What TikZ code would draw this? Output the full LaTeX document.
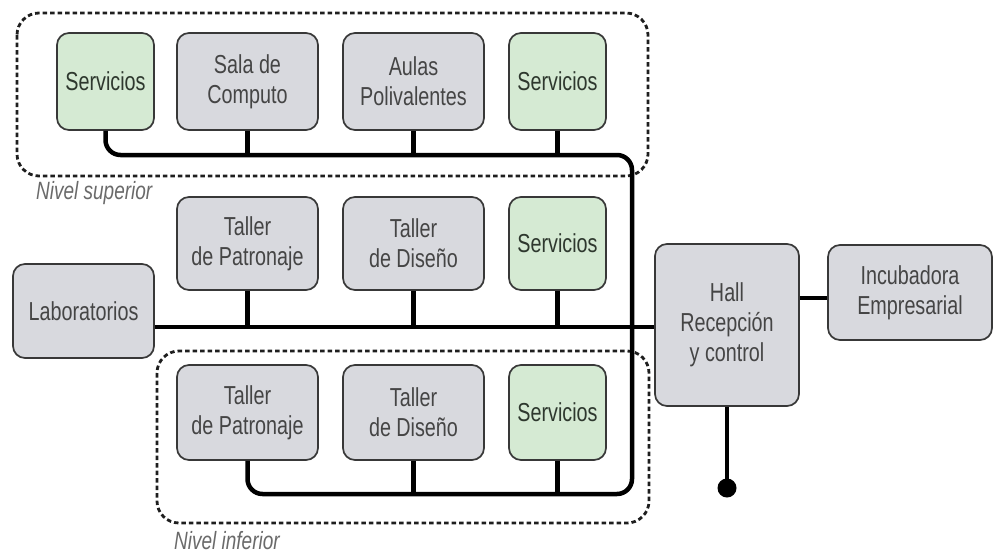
\documentclass[tikz,border=0pt]{standalone}
\usepackage{fontspec}
\setmainfont{Liberation Sans}[FakeStretch=0.76]
\definecolor{boxgray}{HTML}{D8D9DE}
\definecolor{boxgreen}{HTML}{D5EAD3}
\definecolor{bordc}{HTML}{383838}
\definecolor{txtc}{HTML}{454545}
\definecolor{txtg}{HTML}{2E382E}
\definecolor{dashc}{HTML}{1E1E1E}
\definecolor{lvlc}{HTML}{6A6A6A}
\begin{document}
\begin{tikzpicture}[x=1pt,y=-1pt,
  box/.style={draw=bordc, line width=1.7pt, rounded corners=12pt, fill=boxgray, text=txtc,
    align=center, font=\fontsize{26}{30}\selectfont, inner sep=0pt},
  gbox/.style={box, fill=boxgreen, text=txtg},
  wide/.style={minimum width=141pt},
  narrow/.style={minimum width=97pt},
  bus/.style={line width=4.5pt, rounded corners=15pt},
  group/.style={draw=dashc, line width=2.8pt, dash pattern=on 4.5pt off 3pt, rounded corners=22pt},
  lvl/.style={font=\fontsize{25}{30}\selectfont\itshape, text=lvlc, anchor=west, inner sep=0pt}]
\useasboundingbox (0,0) rectangle (1000,554);

% groups
\draw[group] (17,13) rectangle (648,176);
\draw[group] (157,351) rectangle (649,523);
\node[lvl] (nsup) at (36,193) {Nivel superior};
\node[lvl] (ninf) at (174,541) {Nivel inferior};

% top row
\node[gbox, narrow, minimum height=97pt] (s1) at (105.5,81.5) {Servicios};
\node[box, wide, minimum height=97pt] (sc) at (247.5,81.5) {Sala de\\Computo};
\node[box, wide, minimum height=97pt] (ap) at (413.5,81.5) {Aulas\\Polivalentes};
\node[gbox, narrow, minimum height=97pt] (s2) at (557.5,81.5) {Servicios};

% middle row
\node[box, wide, minimum height=93pt] (tp1) at (247.5,243.5) {Taller\\de Patronaje};
\node[box, wide, minimum height=93pt] (td1) at (413.5,243.5) {Taller\\de Diseño};
\node[gbox, narrow, minimum height=93pt] (s3) at (557.5,243.5) {Servicios};
\node[box, minimum width=141pt, minimum height=94pt] (lab) at (83.5,311) {Laboratorios};

% lower row
\node[box, wide, minimum height=95pt] (tp2) at (247.5,412.5) {Taller\\de Patronaje};
\node[box, wide, minimum height=95pt] (td2) at (413.5,412.5) {Taller\\de Diseño};
\node[gbox, narrow, minimum height=95pt] (s4) at (557.5,412.5) {Servicios};

% right
\node[box, minimum width=144pt, minimum height=162pt] (hall) at (727,325) {Hall\\Recepción\\y control};
\node[box, minimum width=164pt, minimum height=95pt] (inc) at (910,292.5) {Incubadora\\Empresarial};

% coordinates
\coordinate (tr) at (632,155);
\coordinate (br) at (632,494);
\coordinate (mb) at (0,327);
\coordinate (hi) at (0,298);
\coordinate (dot) at (727,488);

% buses
\draw[bus] (s1.south) -- (s1.south |- tr) -- (tr) -- (br) -- (tp2.south |- br) -- (tp2.south);
\draw[bus] (sc.south) -- (sc.south |- tr);
\draw[bus] (ap.south) -- (ap.south |- tr);
\draw[bus] (s2.south) -- (s2.south |- tr);

\draw[bus] (lab.east |- mb) -- (hall.west |- mb);
\draw[bus] (tp1.south) -- (tp1.south |- mb);
\draw[bus] (td1.south) -- (td1.south |- mb);
\draw[bus] (s3.south) -- (s3.south |- mb);

\draw[bus] (td2.south) -- (td2.south |- br);
\draw[bus] (s4.south) -- (s4.south |- br);

\draw[bus] (hall.east |- hi) -- (inc.west |- hi);
\draw[bus] (hall.south) -- (dot);
\fill (dot) circle (9.5);
\end{tikzpicture}
\end{document}
